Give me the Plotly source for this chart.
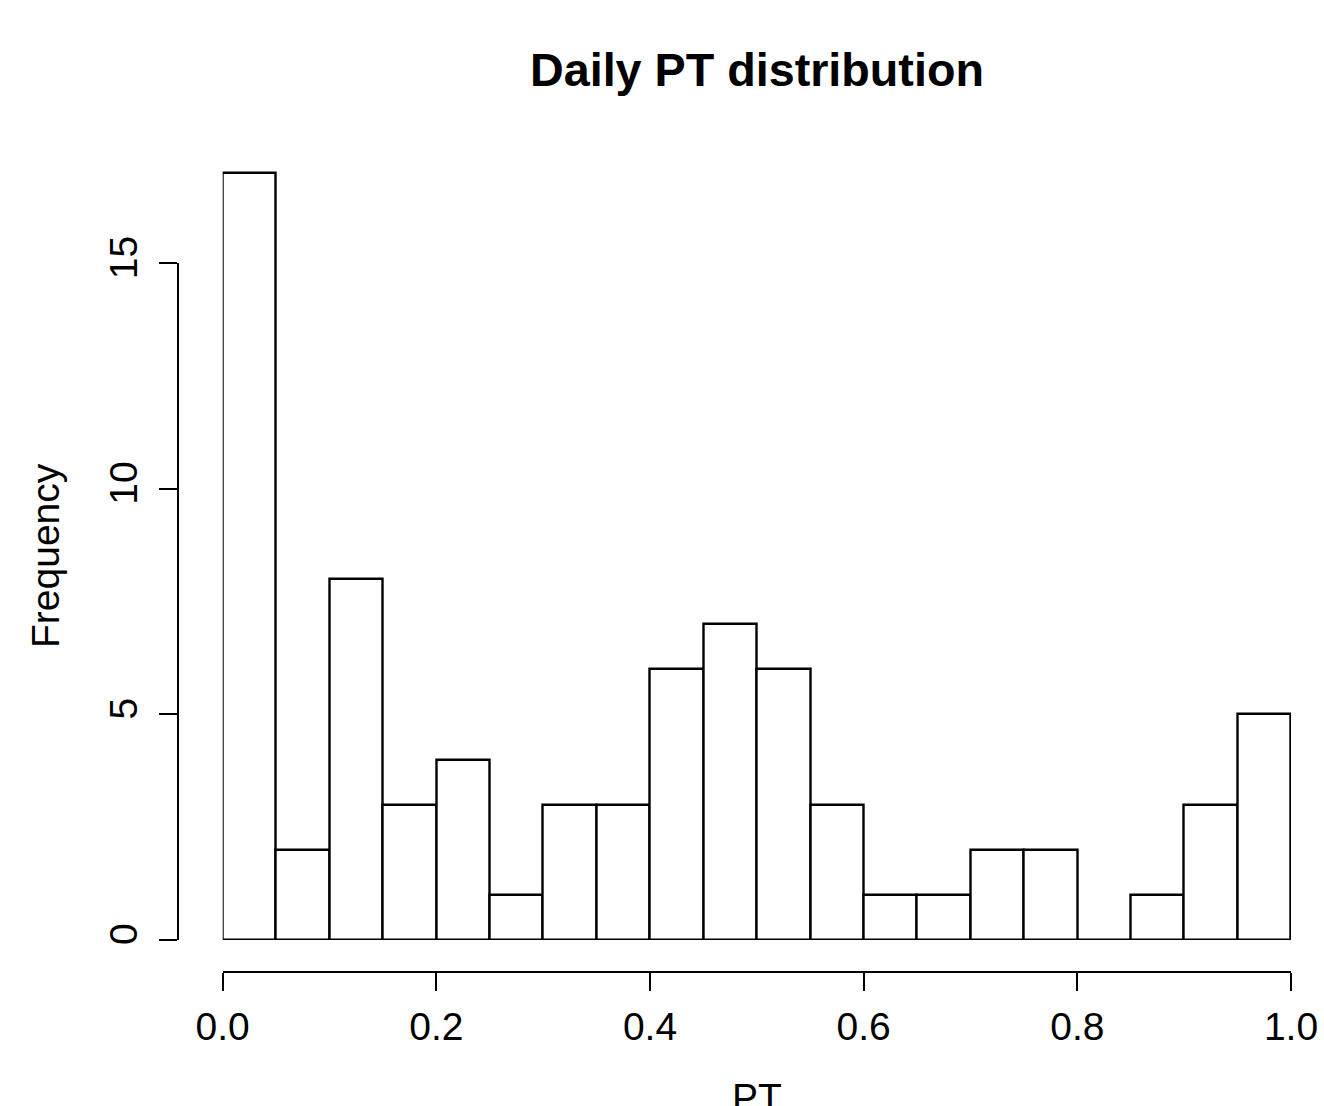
import plotly.graph_objects as go

# ---- data ----
bin_left = [0.00, 0.05, 0.10, 0.15, 0.20, 0.25, 0.30, 0.35, 0.40, 0.45,
            0.50, 0.55, 0.60, 0.65, 0.70, 0.75, 0.80, 0.85, 0.90, 0.95]
bin_width = 0.05
counts = [17, 2, 8, 3, 4, 1, 3, 3, 6, 7, 6, 3, 1, 1, 2, 2, 0, 1, 3, 5]
x_ticks = [0.0, 0.2, 0.4, 0.6, 0.8, 1.0]
x_ticktext = ["0.0", "0.2", "0.4", "0.6", "0.8", "1.0"]
y_ticks = [0, 5, 10, 15]
title_text = "Daily PT distribution"
x_label = "PT"
y_label = "Frequency"

centers = [b + bin_width / 2 for b in bin_left]

W, H = 1324, 1106
L, R = 178, 1291      # plot area left (y-axis line) / right
T, B = 140, 972       # plot area top / bottom (x-axis line)
x0_px = 222.7
y0_px, y15_px = 940, 263.3
ppu = (y0_px - y15_px) / 15.0
area_h = B - T
area_w = R - L

ydom0 = (B - y0_px) / area_h
ymax = (y0_px - T) / ppu
xdom0 = (x0_px - L) / area_w


def px_x(p):
    return (p - L) / area_w


def px_y(p):
    return (B - p) / area_h


FONT = "Liberation Sans, Arial, Helvetica, sans-serif"
LW = 2.4

fig = go.Figure()
fig.add_trace(go.Bar(
    x=centers, y=counts, width=bin_width,
    marker=dict(color="white", line=dict(color="black", width=LW)),
    cliponaxis=False, hoverinfo="x+y", showlegend=False,
))
# carrier trace for the visible y axis (invisible)
fig.add_trace(go.Scatter(
    x=centers, y=counts, yaxis="y2", mode="markers",
    marker=dict(opacity=0), hoverinfo="skip", showlegend=False,
))

fig.update_layout(
    width=W, height=H,
    paper_bgcolor="white", plot_bgcolor="rgba(0,0,0,0)",
    margin=dict(l=L, r=W - R, t=T, b=H - B, pad=0, autoexpand=False),
    bargap=0,
    font=dict(family=FONT, color="black", size=39),
    xaxis=dict(
        domain=[xdom0, 1], range=[0, 1], anchor="free", position=0,
        automargin=False,
        showline=True, linecolor="black", linewidth=LW,
        ticks="outside", ticklen=18, tickwidth=LW, tickcolor="black",
        tickvals=x_ticks, ticktext=x_ticktext,
        tickfont=dict(family=FONT, size=39, color="black"),
        ticklabelstandoff=2,
        showgrid=False, zeroline=False, fixedrange=True,
    ),
    yaxis=dict(
        domain=[ydom0, 1], range=[0, ymax], visible=False, fixedrange=True,
        automargin=False,
    ),
    yaxis2=dict(
        domain=[ydom0, (B - y15_px) / area_h], range=[0, 15],
        anchor="free", position=0, automargin=False,
        showline=True, linecolor="black", linewidth=LW,
        ticks="outside", ticklen=18, tickwidth=LW, tickcolor="black",
        tickvals=y_ticks, tickangle=-90,
        tickfont=dict(family=FONT, size=39, color="black"),
        ticklabelstandoff=6,
        showgrid=False, zeroline=False, fixedrange=True,
    ),
    annotations=[
        dict(text=f"<b>{title_text}</b>", xref="paper", yref="paper",
             x=px_x(757), y=px_y(70),
             xanchor="center", yanchor="middle", showarrow=False,
             font=dict(family=FONT, size=46.7, color="black")),
        dict(text=x_label, xref="paper", yref="paper",
             x=px_x(757), y=px_y(1097),
             xanchor="center", yanchor="middle", showarrow=False,
             font=dict(family=FONT, size=39, color="black")),
        dict(text=y_label, xref="paper", yref="paper",
             x=px_x(45), y=px_y(556),
             xanchor="center", yanchor="middle", showarrow=False,
             textangle=-90,
             font=dict(family=FONT, size=39, color="black")),
    ],
)

fig.write_html(
    "out.html",
    config={"displayModeBar": False},
    post_script="document.body.style.margin='0';"
                "document.body.style.overflow='hidden';",
)
